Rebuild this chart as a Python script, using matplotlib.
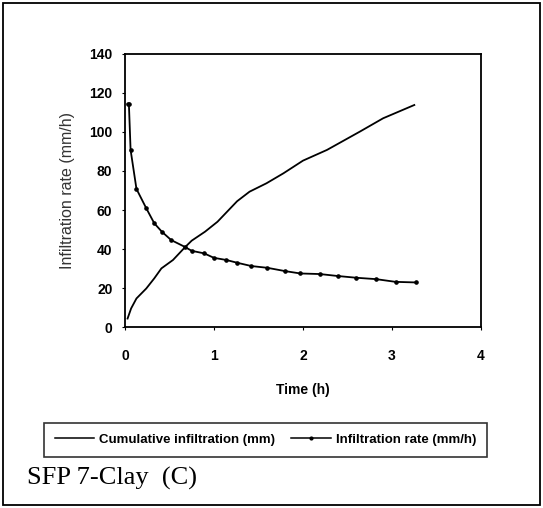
import matplotlib
matplotlib.use("Agg")
import matplotlib.pyplot as plt
from matplotlib.patches import Rectangle
from matplotlib.lines import Line2D

# cumulative infiltration (mm)
t_cum = [0.03, 0.07, 0.13, 0.24, 0.33, 0.41, 0.54, 0.67, 0.75, 0.90, 1.04,
         1.26, 1.40, 1.59, 1.78, 2.0, 2.27, 2.64, 2.90, 3.25]
cum = [4.4, 9.6, 14.7, 19.8, 25.0, 30.1, 34.4, 40.7, 44.3, 48.9, 54.0,
       64.5, 69.4, 73.7, 78.8, 85.3, 90.8, 100.2, 107.0, 113.8]

# infiltration rate (mm/h)
t_rate = [0.03, 0.045, 0.064, 0.13, 0.24, 0.33, 0.415, 0.52, 0.67, 0.75, 0.89,
          1.0, 1.14, 1.26, 1.42, 1.6, 1.8, 1.97, 2.19, 2.39, 2.6, 2.82, 3.04, 3.27]
rate = [114.4, 114.2, 90.8, 70.8, 60.9, 53.2, 48.9, 44.6, 41.2, 39.1, 37.8,
        35.5, 34.4, 33.0, 31.3, 30.4, 28.7, 27.5, 27.2, 26.2, 25.3, 24.6, 23.2, 22.9]

xticks = [0, 1, 2, 3, 4]
yticks = [0, 20, 40, 60, 80, 100, 120, 140]

narrow = ['Liberation Sans Narrow', 'Liberation Sans', 'DejaVu Sans']

fig = plt.figure(figsize=(5.43, 5.08), dpi=100)
ax = fig.add_axes([0.230, 0.356, 0.656, 0.538])

ax.plot(t_cum, cum, color='black', lw=1.3, label='Cumulative infiltration (mm)')
ax.plot(t_rate, rate, color='black', lw=1.3, marker='o', markersize=2.3,
        label='Infiltration rate (mm/h)')

ax.set_xlim(0, 4)
ax.set_ylim(0, 140)
ax.set_xticks(xticks)
ax.set_yticks(yticks)
ax.tick_params(axis='x', length=2, pad=14, labelsize=10)
ax.tick_params(axis='y', length=2, pad=7, labelsize=10)
for lab in ax.get_xticklabels() + ax.get_yticklabels():
    lab.set_family('Liberation Sans')
    lab.set_fontweight('bold')
for s in ax.spines.values():
    s.set_linewidth(1.3)

ax.set_xlabel('Time (h)', family=narrow, fontweight='bold', fontsize=10, labelpad=14)
ax.set_ylabel('Infiltration rate (mm/h)', family=narrow, fontsize=11.5,
              color='#333333', labelpad=10)

h = [Line2D([], [], color='black', lw=1.1),
     Line2D([], [], color='black', lw=1.1, marker='o', markersize=2)]
leg = fig.legend(h, ['Cumulative infiltration (mm)', 'Infiltration rate (mm/h)'],
                 loc='center', bbox_to_anchor=(0.489, 0.134), ncol=2,
                 frameon=True, fancybox=False, edgecolor='black',
                 prop={'family': narrow, 'weight': 'bold', 'size': 9.5},
                 handlelength=3.0, handletextpad=0.4, columnspacing=1.2,
                 borderpad=0.8, borderaxespad=0)
leg.get_frame().set_linewidth(1.2)

fig.text(0.050, 0.046, 'SFP 7-Clay  (C)', family='Liberation Serif', fontsize=19)

fig.patches.append(Rectangle((0.006, 0.006), 0.988, 0.988, transform=fig.transFigure,
                             fill=False, edgecolor='black', lw=1.3))

fig.savefig('out.png', dpi=100)
